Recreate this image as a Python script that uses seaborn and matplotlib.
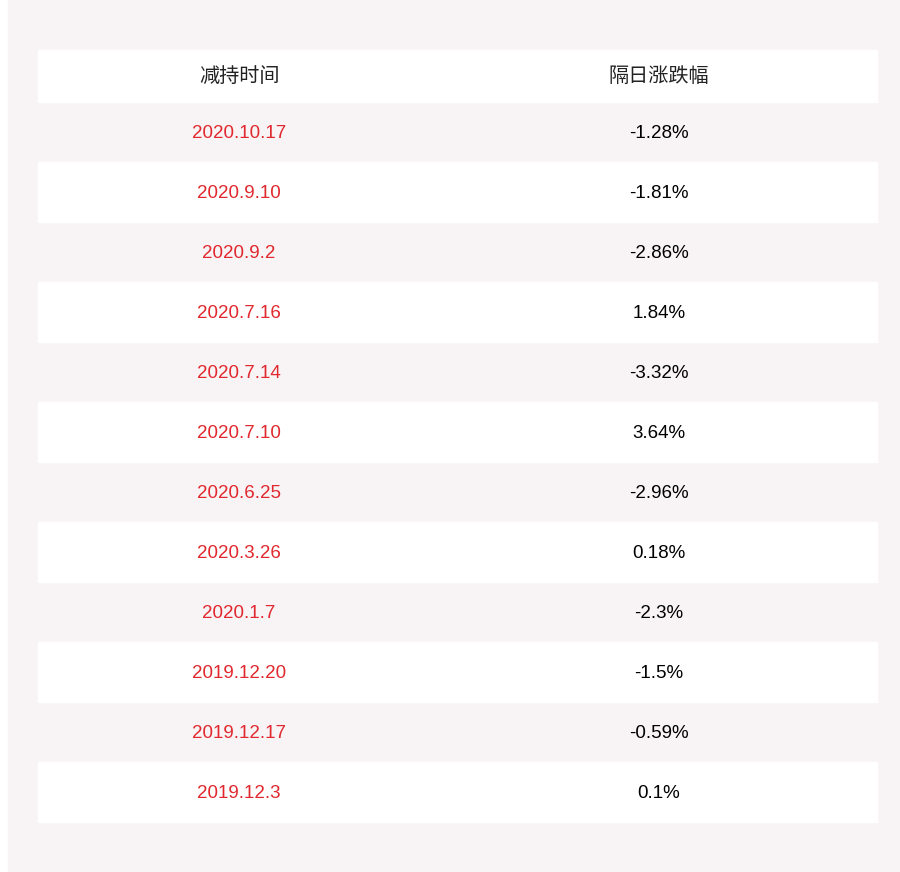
import matplotlib
matplotlib.use("Agg")
import matplotlib.pyplot as plt
import seaborn as sns
from matplotlib.patches import Rectangle

headers = ["减持时间", "隔日涨跌幅"]
dates = ["2020.10.17", "2020.9.10", "2020.9.2", "2020.7.16", "2020.7.14", "2020.7.10",
         "2020.6.25", "2020.3.26", "2020.1.7", "2019.12.20", "2019.12.17", "2019.12.3"]
changes = ["-1.28%", "-1.81%", "-2.86%", "1.84%", "-3.32%", "3.64%",
           "-2.96%", "0.18%", "-2.3%", "-1.5%", "-0.59%", "0.1%"]

sns.set_theme(style="white")
plt.rcParams['font.family'] = ['Liberation Sans', 'Noto Sans CJK SC', 'DejaVu Sans']

panel = "#f8f4f5"
red = "#e0282e"

fig = plt.figure(figsize=(9, 8.72), dpi=100)
ax = fig.add_axes([0, 0, 1, 1])
ax.set_xlim(0, 900)
ax.set_ylim(872, 0)
ax.axis("off")

ax.add_patch(Rectangle((8, 0), 892, 872, color=panel, zorder=0))

# header row
ax.add_patch(Rectangle((38, 50), 839, 52, color="white", zorder=1))
for x, h in zip([239, 659], headers):
    ax.text(x, 76, h, ha="center", va="center", fontsize=14.5,
            family=['Noto Sans CJK SC', 'DejaVu Sans'], color="#222222", zorder=3)

row_h = 60
top = 102
for i, (d, c) in enumerate(zip(dates, changes)):
    y0 = top + i * row_h
    if i % 2 == 1:
        ax.add_patch(Rectangle((38, y0), 839, row_h, color="white", zorder=1))
    yc = y0 + row_h / 2 + 1.5
    ax.text(239, yc, d, ha="center", va="center", fontsize=13.5, color=red, zorder=3)
    ax.text(659, yc, c, ha="center", va="center", fontsize=13.5, color="black", zorder=3)

fig.savefig("out.png", dpi=100)
